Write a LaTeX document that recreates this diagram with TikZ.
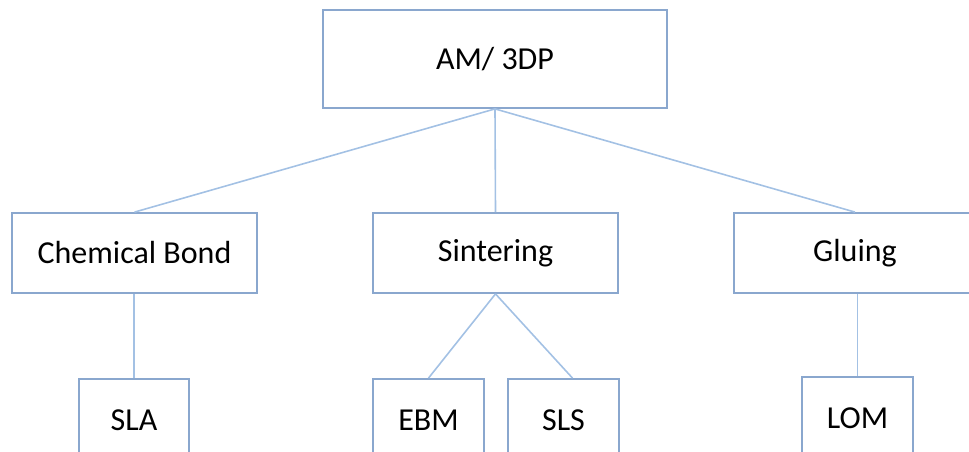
\documentclass[tikz,border=0pt]{standalone}
\usepackage{fontspec}
\setmainfont{Carlito}
\usetikzlibrary{positioning}
\definecolor{box-blue}{HTML}{8AA7CE}
\definecolor{line-blue}{HTML}{A3C1E4}

\begin{document}
\begin{tikzpicture}[x=1pt, y=-1pt, box/.style={rectangle, draw=box-blue, line width=1.8pt, fill=white, inner sep=0pt, font=\fontsize{32}{38}\selectfont}, link/.style={draw=line-blue, line width=1.6pt}]
    \useasboundingbox (0,0) rectangle (969,452);
    \clip (0,0) rectangle (969,452);

    \node[box, minimum width=344pt, minimum height=98pt] (am) at (495,59) {AM/ 3DP};

    \node[box, minimum width=245pt, minimum height=80pt] (chem) at (134.5,253) {Chemical Bond};
    \node[box, minimum width=245pt, minimum height=80pt] (sint) at (495.5,253) {Sintering};
    \node[box, minimum width=242pt, minimum height=80pt] (glue) at (855,253) {Gluing};

    \node[box, minimum width=110pt, minimum height=82pt] (sla) at (134,420) {SLA};
    \node[box, minimum width=111pt, minimum height=82pt] (ebm) at (428.5,420) {EBM};
    \node[box, minimum width=111pt, minimum height=82pt] (sls) at (563.5,420) {SLS};
    \node[box, minimum width=111pt, minimum height=82pt] (lom) at (857.5,418) {LOM};

    \draw[link] (am.south) -- (chem.north);
    \draw[link] (am.south) -- (sint.north);
    \draw[link] (am.south) -- (glue.north);

    \draw[link] (sla.north) -- (sla.north |- chem.south);
    \draw[link] (sint.south) -- (ebm.north);
    \draw[link] (sint.south) -- ([xshift=9pt]sls.north);
    \draw[link] (lom.north) -- (lom.north |- glue.south);

\end{tikzpicture}
\end{document}
